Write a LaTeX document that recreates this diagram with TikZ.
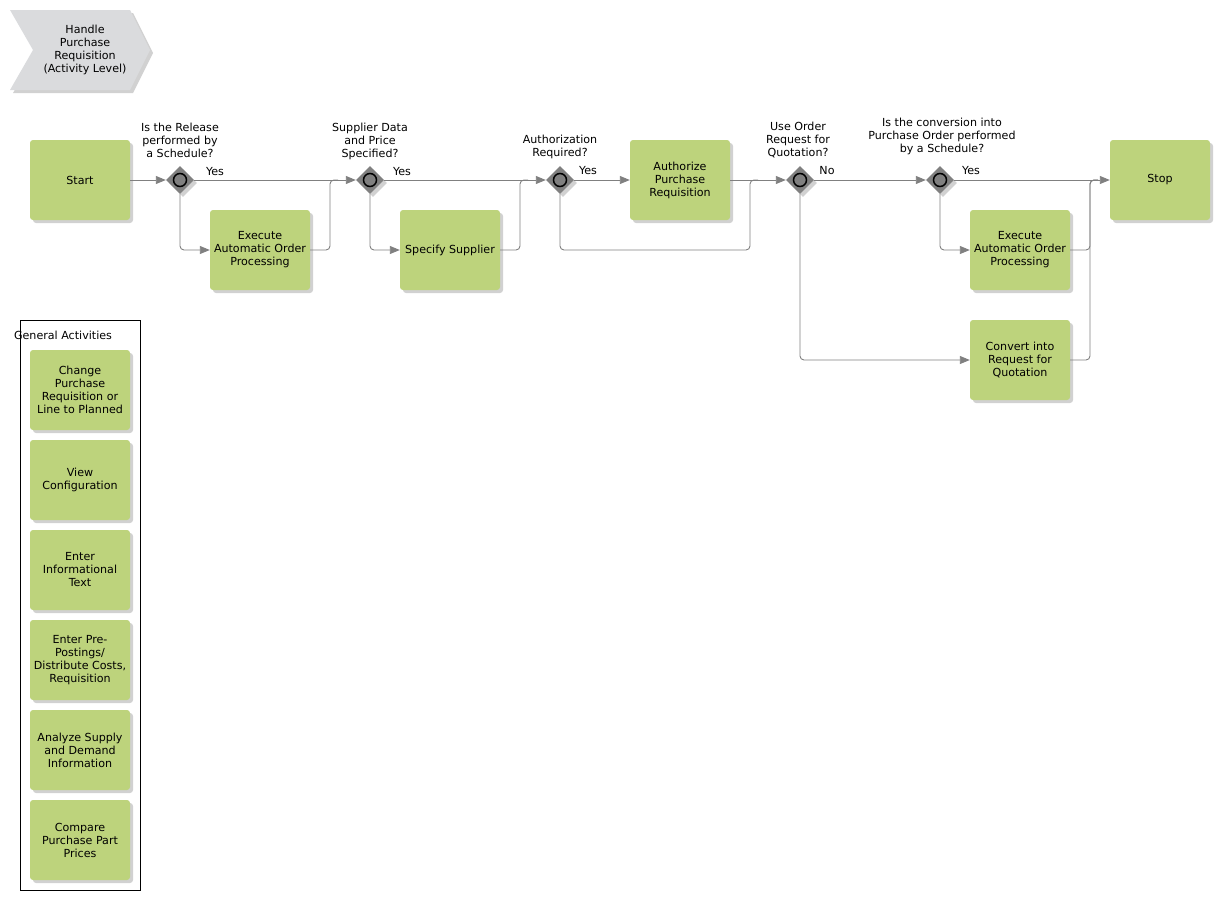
\documentclass[tikz,border=0pt]{standalone}
\usepackage{fontspec}
\setmainfont{DejaVu Sans}
\usetikzlibrary{arrows.meta,shapes.geometric,shadows}
\definecolor{boxgreen}{RGB}{189,211,124}
\definecolor{linegrey}{RGB}{128,128,128}
\definecolor{gwgrey}{RGB}{128,128,128}
\definecolor{chevgrey}{RGB}{218,219,221}
\begin{document}
\begin{tikzpicture}[x=1pt,y=-1pt,
  txt/.style={font=\fontsize{11.1}{13}\selectfont, align=center, inner sep=0pt},
  shad/.style={drop shadow={shadow xshift=3pt,shadow yshift=-3pt,fill=black!18,opacity=1}},
  act/.style={txt, rectangle, rounded corners=3pt, fill=boxgreen, minimum width=100pt, minimum height=80pt, shad},
  gw/.style={diamond, fill=gwgrey, minimum width=28pt, minimum height=28pt, inner sep=0pt, shad,
    path picture={\draw[line width=1.5pt, fill=gwgrey] (path picture bounding box.center) circle (6.5pt);}},
  conn/.style={draw=linegrey, line width=0.9pt, rounded corners=4pt},
  arr/.style={conn, -{Triangle[length=10pt,width=8pt]}}
]
\useasboundingbox (0,0) rectangle (1220,900);

% chevron
\path[fill=chevgrey, shad] (10,10) -- (130,10) -- (150,50) -- (130,90) -- (10,90) -- (33,50) -- cycle;
\node[txt] (title) at (85,50) {Handle\\Purchase\\Requisition\\(Activity Level)};

% main activities
\node[act] (start) at (80,180) {Start};
\node[act] (e1) at (260,250) {Execute\\Automatic Order\\Processing};
\node[act] (ss) at (450,250) {Specify Supplier};
\node[act] (auth) at (680,180) {Authorize\\Purchase\\Requisition};
\node[act] (e2) at (1020,250) {Execute\\Automatic Order\\Processing};
\node[act] (cv) at (1020,360) {Convert into\\Request for\\Quotation};
\node[act] (stop) at (1160,180) {Stop};

% gateways
\node[gw] (g1) at (180,180) {};
\node[gw] (g2) at (370,180) {};
\node[gw] (g3) at (560,180) {};
\node[gw] (g4) at (800,180) {};
\node[gw] (g5) at (940,180) {};

% gateway labels
\node[txt] (l1) at (180,140.5) {Is the Release\\performed by\\a Schedule?};
\node[txt] (l2) at (370,141) {Supplier Data\\and Price\\Specified?};
\node[txt] (l3) at (560,146.5) {Authorization\\Required?};
\node[txt] (l4) at (798,140) {Use Order\\Request for\\Quotation?};
\node[txt] (l5) at (942,136) {Is the conversion into\\Purchase Order performed\\by a Schedule?};

\node[txt] (y1) at (215,172) {Yes};
\node[txt] (y2) at (402,172) {Yes};
\node[txt] (y3) at (588,171) {Yes};
\node[txt] (n4) at (827,171) {No};
\node[txt] (y5) at (971,171) {Yes};

% junction coordinates
\coordinate (j1) at (330,180);
\coordinate (j2) at (520,180);
\coordinate (j3) at (750,250);
\coordinate (j3t) at (750,180);
\coordinate (j5) at (1090,180);

% connectors
\draw[arr] (start) -- (g1);
\draw[arr] (g1) -- (g2);
\draw[arr] (g1.south) |- (e1.west);
\draw[conn] (e1.east) -| (j1) -- ++(8,0);
\draw[arr] (g2) -- (g3);
\draw[arr] (g2.south) |- (ss.west);
\draw[conn] (ss.east) -| (j2) -- ++(8,0);
\draw[arr] (g3) -- (auth);
\draw[conn] (g3.south) |- (j3) -- (j3t) -- ++(8,0);
\draw[arr] (auth) -- (g4);
\draw[arr] (g4) -- (g5);
\draw[arr] (g4.south) |- (cv.west);
\draw[arr] (g5) -- (stop);
\draw[arr] (g5.south) |- (e2.west);
\draw[conn] (e2.east) -| (j5) -- ++(8,0);
\draw[conn] (cv.east) -| (j5) -- ++(8,0);

% general activities
\draw[black, line width=0.9pt] (20,320) rectangle (140,890);
\node[txt] (ga) at (63,335) {General Activities};
\node[act] (ga1) at (80,390) {Change\\Purchase\\Requisition or\\Line to Planned};
\node[act] (ga2) at (80,480) {View\\Configuration};
\node[act] (ga3) at (80,570) {Enter\\Informational\\Text};
\node[act] (ga4) at (80,660) {Enter Pre-\\Postings/\\Distribute Costs,\\Requisition};
\node[act] (ga5) at (80,750) {Analyze Supply\\and Demand\\Information};
\node[act] (ga6) at (80,840) {Compare\\Purchase Part\\Prices};
\end{tikzpicture}
\end{document}
